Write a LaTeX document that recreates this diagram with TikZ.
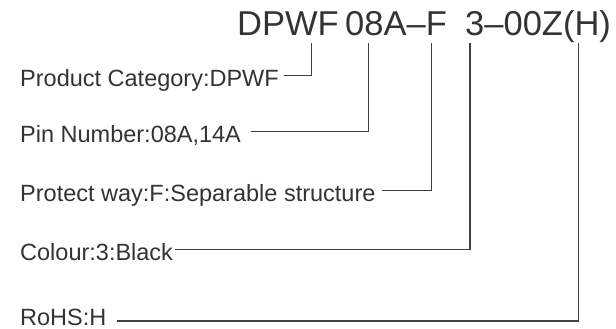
\documentclass[tikz,border=0pt]{standalone}
\usepackage{fontspec}
\setmainfont{Liberation Sans}
\usepackage{tikz}

\begin{document}
\begin{tikzpicture}[x=1pt, y=-1pt,
        every node/.style={inner sep=0pt, text=black!80},
        partno/.style={font=\fontsize{34.5}{38}\selectfont, anchor=base west},
        field/.style={font=\fontsize{23.5}{26}\selectfont, anchor=base west},
        lead/.style={draw=black!75, line width=1.2pt}
    ]
    \useasboundingbox (0,0) rectangle (616,329);
%
    % Part number
    \node[partno] (pn_a) at (237,36) {DPWF};
    \node[partno] (pn_b) at (345,36) {08A–F};
    \node[partno] (pn_c) at (465,36) {3–00Z(H)};
%
    % Tap points under the part number
    \coordinate (tap_cat) at (311.7,43);
    \coordinate (tap_pin) at (368.3,43);
    \coordinate (tap_way) at (431.3,43);
    \coordinate (tap_col) at (470,43);
    \coordinate (tap_rohs) at (578.3,43);
%
    % Fields
    \node[field] (f_cat) at (20,86) {Product Category:DPWF};
    \node[field] (f_pin) at (20,142) {Pin Number:08A,14A};
    \node[field] (f_way) at (20,201) {Protect way:F:Separable structure};
    \node[field] (f_col) at (20,260) {Colour:3:Black};
    \node[field] (f_rohs) at (20,325) {RoHS:H};
%
    \draw[lead] ([xshift=5pt,yshift=10.5pt]f_cat.base east) -| (tap_cat);
    \draw[lead] ([xshift=10pt,yshift=10.5pt]f_pin.base east) -| (tap_pin);
    \draw[lead] ([xshift=6pt,yshift=10.5pt]f_way.base east) -| (tap_way);
    \draw[lead] ([xshift=2pt,yshift=10.5pt]f_col.base east) -| (tap_col);
    \draw[lead] ([xshift=10pt,yshift=4pt]f_rohs.base east) -| (tap_rohs);
%
\end{tikzpicture}
\end{document}
